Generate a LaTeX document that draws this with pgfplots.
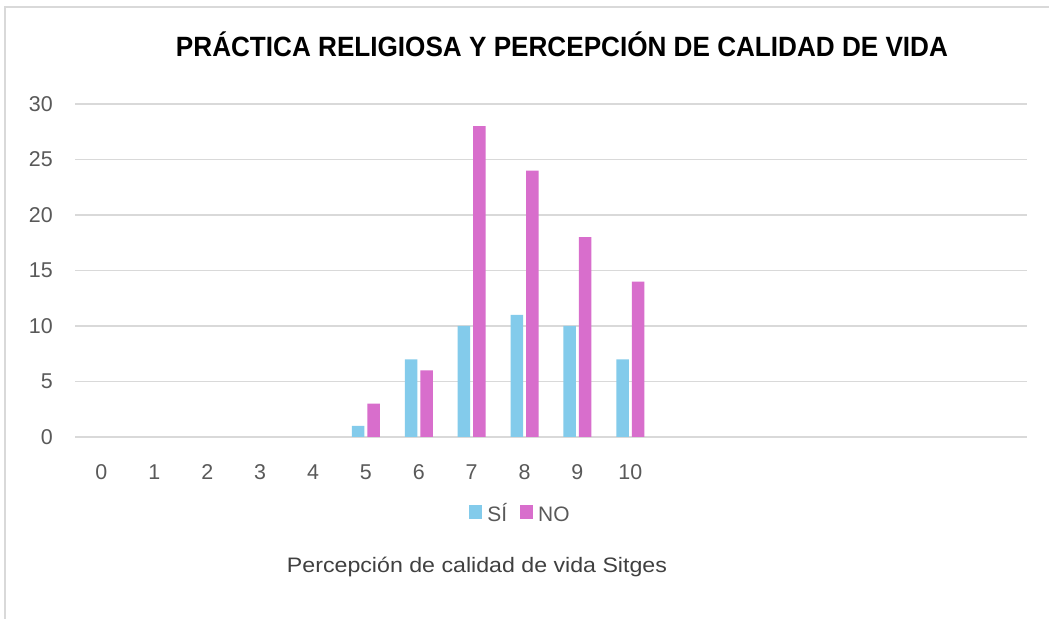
\documentclass[border=0pt]{standalone}
\usepackage{pgfplots}
\pgfplotsset{compat=1.18}
\usepackage{fontspec}
\usepackage{graphicx}
\setmainfont{Liberation Sans}
\definecolor{siblue}{HTML}{83CBEB}
\definecolor{nomag}{HTML}{D86ECC}
\definecolor{gridg}{HTML}{D9D9D9}
\definecolor{tickg}{HTML}{595959}
\definecolor{labg}{HTML}{404040}
\begin{document}
\begin{tikzpicture}[x=1bp,y=1bp]
\useasboundingbox (0,0) rectangle (1049,619);
\fill[white] (0,0) rectangle (1049,619);
\draw[gridg, line width=2bp] (5,0) -- (5,612) -- (1049,612);
\begin{axis}[
  at={(75bp,182bp)}, anchor=south west,
  scale only axis, width=952bp, height=333bp,
  xmin=-0.5, xmax=17.5, ymin=0, ymax=30,
  ybar=3bp, bar width=12.5bp,
  xtick={0,1,2,3,4,5,6,7,8,9,10},
  ytick={0,5,10,15,20,25,30},
  ymajorgrids, grid style={gridg, line width=1.5bp},
  axis line style={draw=none}, major tick length=0pt,
  /pgf/number format/assume math mode=true,
  tick label style={font=\fontsize{21.5}{21.5}\selectfont, text=tickg, inner sep=0pt},
  xticklabel style={anchor=base, yshift=-43bp},
  yticklabel style={anchor=east, xshift=-22bp},
  legend columns=2,
  legend style={at={(0.4695,-0.231)}, anchor=center, draw=none, fill=none,
    font=\fontsize{21}{21}\selectfont, text=tickg,
    nodes={text height=15bp, text depth=0bp, inner xsep=5bp},
    /tikz/every even column/.append style={column sep=8bp}},
  legend image code/.code={\fill[#1] (0bp,-5bp) rectangle (13bp,8.5bp);},
]
\addplot[fill=siblue, draw=none] coordinates {(5,1) (6,7) (7,10) (8,11) (9,10) (10,7)};
\addplot[fill=nomag, draw=none] coordinates {(5,3) (6,6) (7,28) (8,24) (9,18) (10,14)};
\legend{SÍ, NO}
\end{axis}
\node[anchor=base, inner sep=0pt] at (562,562) {\resizebox{772bp}{\height}{\fontsize{28}{28}\selectfont\bfseries PRÁCTICA RELIGIOSA Y PERCEPCIÓN DE CALIDAD DE VIDA}};
\node[anchor=base, inner sep=0pt, text=labg] at (477,46) {\resizebox{380bp}{\height}{\fontsize{21}{21}\selectfont Percepción de calidad de vida Sitges}};
\end{tikzpicture}
\end{document}
